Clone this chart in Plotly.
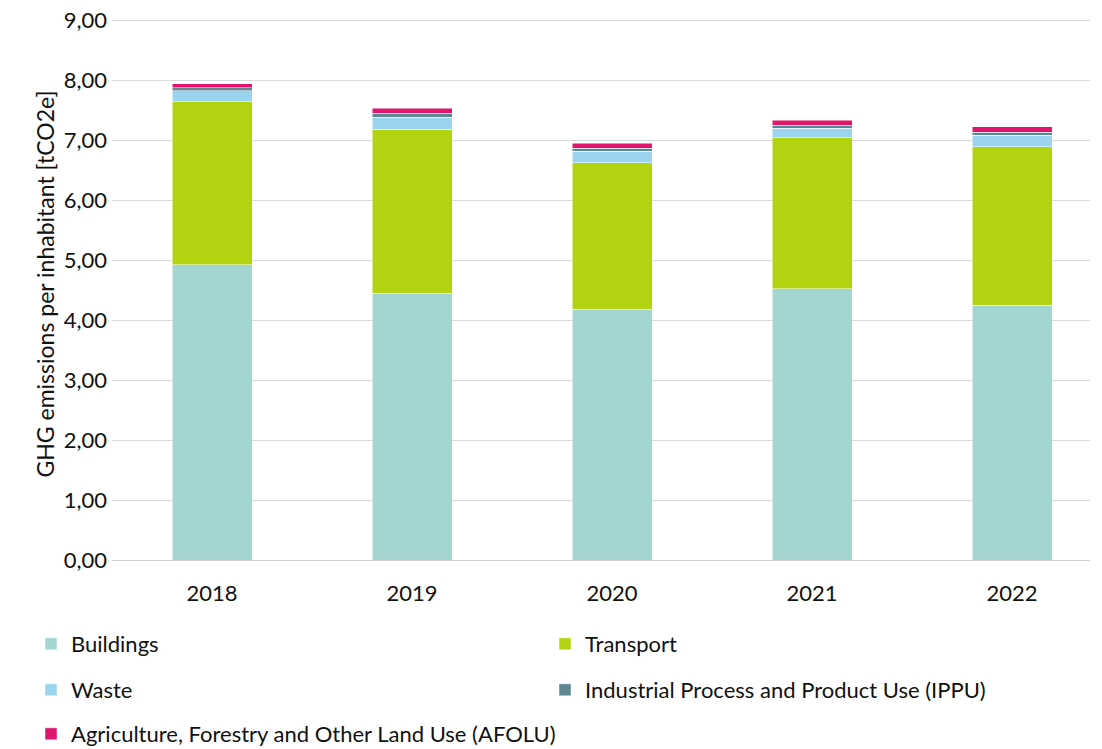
import plotly.graph_objects as go

years = ["2018", "2019", "2020", "2021", "2022"]
buildings = [4.92, 4.45, 4.18, 4.52, 4.25]
transport = [2.72, 2.73, 2.44, 2.52, 2.64]
waste = [0.18, 0.20, 0.19, 0.16, 0.19]
ippu = [0.05, 0.07, 0.05, 0.05, 0.05]
afolu = [0.07, 0.08, 0.09, 0.08, 0.09]
yticks = [0, 1, 2, 3, 4, 5, 6, 7, 8, 9]

series = [
    ("Buildings", buildings, "#A3D6D1", "legend"),
    ("Transport", transport, "#B2D30F", "legend"),
    ("Waste", waste, "#9AD4EF", "legend2"),
    ("Industrial Process and Product Use (IPPU)", ippu, "#5E8792", "legend2"),
    ("Agriculture, Forestry and Other Land Use (AFOLU)", afolu, "#E0156B", "legend3"),
]

FONT = "Lato"
FS = 22
fig = go.Figure()
for name, vals, col, lg in series:
    fig.add_trace(go.Bar(x=list(range(len(years))), y=vals, name=name,
                         marker=dict(color=col, line=dict(color="white", width=0.5)),
                         legend=lg))

# page body has an 8px margin; layout is compensated for it
TOP = 0
PH = 552 - TOP
leg_common = dict(orientation="h", xanchor="left", x=-0.0828, yanchor="middle",
                  entrywidthmode="pixels",
                  font=dict(family=FONT, size=FS, color="#111"),
                  bgcolor="rgba(0,0,0,0)", itemwidth=30, traceorder="normal")

fig.update_layout(
    width=1102, height=749,
    margin=dict(l=104, r=20, t=TOP, b=197, autoexpand=False),
    barmode="stack", bargap=0.6,
    plot_bgcolor="white", paper_bgcolor="white",
    font=dict(family=FONT, size=FS, color="#111"),
    xaxis=dict(tickmode="array", tickvals=list(range(len(years))), ticktext=years,
               range=[-0.5, 4.39], showgrid=False, showline=True, linecolor="#d0d0d0",
               linewidth=1, ticks="", ticklabelstandoff=14,
               tickfont=dict(size=FS, color="#111")),
    yaxis=dict(range=[0, 9.2], tickmode="array", tickvals=yticks, tickformat=".2f",
               gridcolor="#d9d9d9", gridwidth=1, zeroline=False, ticks="",
               ticklabelstandoff=4, ticklabeloverflow="allow",
               tickfont=dict(size=FS, color="#111"),
               title=dict(text="GHG emissions per inhabitant [tCO2e]",
                          font=dict(size=23, color="#111"), standoff=2)),
    separators=",.",
    legend=dict(y=(552 - 636) / PH, entrywidth=469, **leg_common),
    legend2=dict(y=(552 - 682) / PH, entrywidth=469, **leg_common),
    legend3=dict(y=(552 - 726) / PH, entrywidth=700, **leg_common),
)

fig.write_html("out.html")
